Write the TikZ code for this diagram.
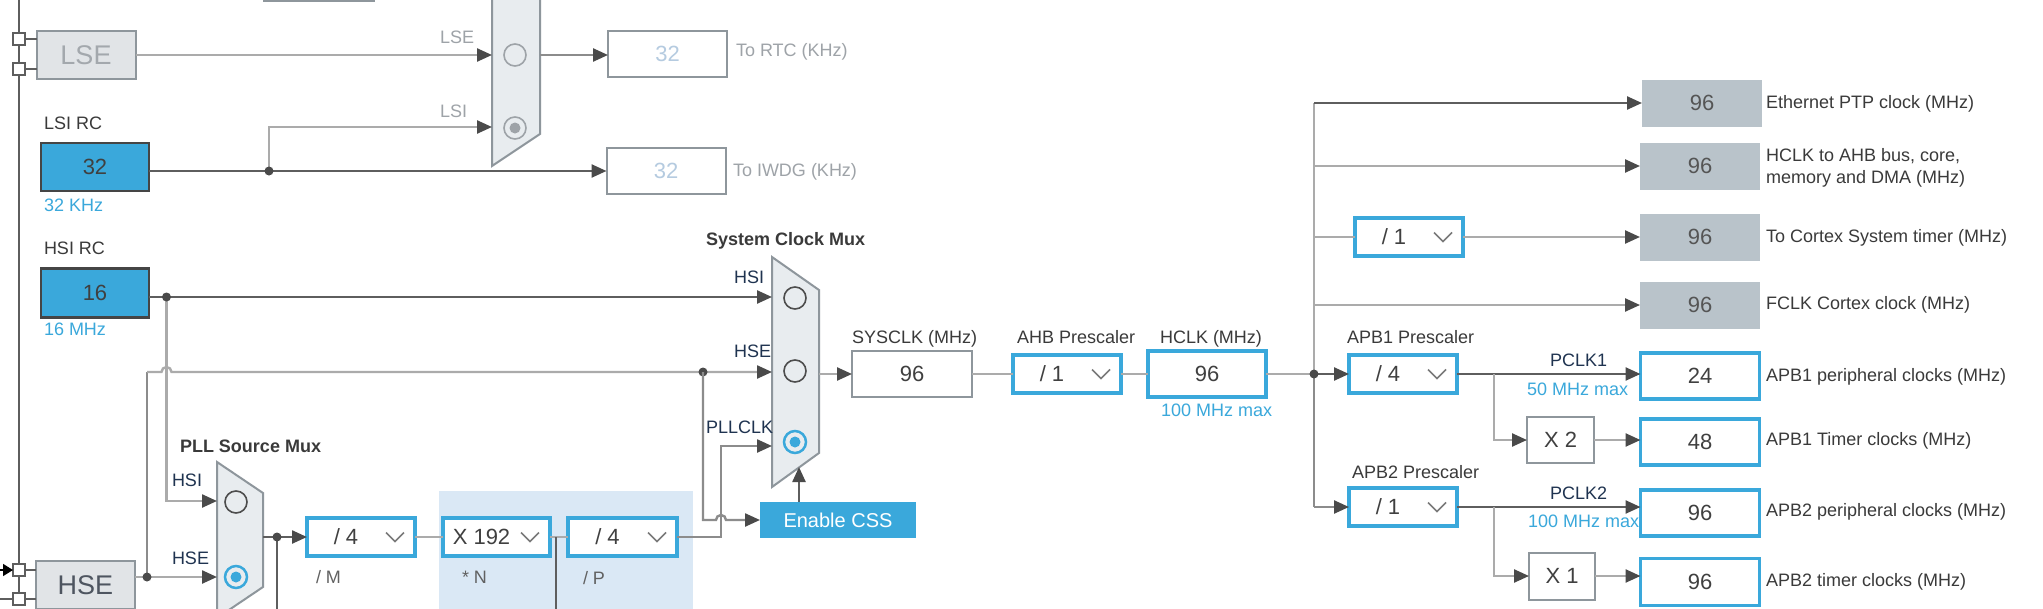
\documentclass[tikz,border=0pt]{standalone}
\usepackage{fontspec}
\setmainfont{Liberation Sans}
\usetikzlibrary{arrows.meta,calc}
\definecolor{cubeblue}{HTML}{3AA8DB}
\definecolor{wdark}{HTML}{5E5E5E}
\definecolor{wmid}{HTML}{8C8C8C}
\definecolor{wlight}{HTML}{ABABAB}
\definecolor{arrc}{HTML}{4A4A4A}
\definecolor{boxgray}{HTML}{8E969C}
\definecolor{muxfill}{HTML}{E8ECEF}
\definecolor{outfill}{HTML}{B9C3CA}
\definecolor{outtxt}{HTML}{555555}
\definecolor{pllarea}{HTML}{DAE8F5}
\definecolor{txt}{HTML}{3A3A3A}
\definecolor{navy}{HTML}{1F3350}
\definecolor{valc}{HTML}{404040}
\definecolor{disab}{HTML}{9EA3A8}
\definecolor{disval}{HTML}{B5CBE0}
\definecolor{xtalfill}{HTML}{E1E4E7}
\definecolor{lsetxt}{HTML}{A3A8AD}
\definecolor{hsetxt}{HTML}{4E5560}
\definecolor{rcborder}{HTML}{454545}
\definecolor{radioc}{HTML}{4D4D4D}
\definecolor{chevc}{HTML}{7A7A7A}
\newcommand\fsl{\fontsize{18}{22}\selectfont}
\newcommand\fsv{\fontsize{22}{26}\selectfont}
\newcommand\fsx{\fontsize{27}{32}\selectfont}
\newcommand\fsc{\fontsize{20}{24}\selectfont}
\tikzset{
 every node/.style={inner sep=0pt,outer sep=0pt},
 wire/.style={line width=2.4pt},
 wd/.style={wire,draw=wdark},
 wm/.style={wire,draw=wmid},
 wl/.style={wire,draw=wlight},
 arr/.style={-{Triangle[length=15pt,width=13pt,color=arrc]}},
 lbl/.style={anchor=west,font=\fsl,text=txt,text height=12.9pt,text depth=0pt},
 mlbl/.style={lbl,text=navy},
 blbl/.style={lbl,font=\fsl\bfseries},
 sub/.style={lbl,text=cubeblue},
 dis/.style={lbl,text=disab},
 valt/.style={font=\fsv,text=valc,text height=15.8pt,text depth=0pt},
 valbox/.style={valt,draw=boxgray,line width=2pt,fill=white,minimum width=119pt,minimum height=46pt},
 bluebox/.style={valt,draw=cubeblue,line width=3.5pt,fill=white,minimum width=119pt,minimum height=46pt},
 outbox/.style={valt,text=outtxt,fill=outfill,minimum width=120pt,minimum height=47pt},
 rcbox/.style={valt,draw=rcborder,line width=2.5pt,fill=cubeblue,minimum width=108pt,minimum height=48pt},
 xtal/.style={font=\fsx,text height=19.4pt,text depth=0pt,draw=boxgray,line width=2pt,fill=xtalfill,minimum width=99pt,minimum height=48pt},
 sq/.style={draw=wdark,line width=1.5pt,fill=white,minimum size=12pt},
 mux/.style={draw=boxgray,line width=2pt,fill=muxfill},
 radio/.style={circle,minimum size=22pt,line width=1.6pt,draw=radioc},
 ddb/.style={draw=cubeblue,line width=3.5pt,fill=white,minimum height=38pt},
 chev/.style={draw=chevc,line width=1.5pt},
 cssbox/.style={fill=cubeblue,text=white,font=\fsc,text height=14.3pt,text depth=0pt,minimum width=156pt,minimum height=36pt},
}
% name, x, y, width, text
\newcommand\ddbox[5]{%
 \node[ddb,minimum width=#4pt] (#1) at (#2,#3) {};
 \node[valt] (#1t) at ($(#1.center)+(-15,0)$) {#5};
 \draw[chev] ($(#1.east)+(-29,-4.5)$) -- ($(#1.east)+(-20,4.5)$) -- ($(#1.east)+(-11,-4.5)$);
}
\begin{document}
\begin{tikzpicture}[x=1pt,y=-1pt]
\useasboundingbox (0,0) rectangle (2043,608);
\fill[white] (0,0) rectangle (2043,608);
\clip (0,0) rectangle (2043,608);

% PLL area
\fill[pllarea] (439,491) rectangle (693,620);

% top partial box
\node[draw=boxgray,line width=2pt,minimum width=110pt,minimum height=42pt] (topbox) at (319,-20) {};

% squares and crystals
\node[sq] (s1) at (19,39) {};
\node[sq] (s2) at (19,69) {};
\node[sq] (s3) at (19,570) {};
\node[sq] (s4) at (19,599) {};
\coordinate (ltop) at (19,0);
\coordinate (lin3) at (0,570);
\coordinate (lin4) at (0,599);
\draw[wd] (ltop) -- (s1) (s1) -- (s2) (s2) -- (s3) (s3) -- (s4);
\node[xtal,text=lsetxt] (lse) at (86,55) {LSE};
\node[xtal,text=hsetxt] (hse) at (85.5,585) {HSE};
\draw[wd,line width=1.5pt] (s1.east) -- (s1.east -| lse.west);
\draw[wd,line width=1.5pt] (s2.east) -- (s2.east -| lse.west);
\draw[wd,line width=1.5pt] (s3.east) -- (s3.east -| hse.west);
\draw[wd,line width=1.5pt] (s4.east) -- (s4.east -| hse.west);
\draw[wd,line width=1.5pt] (lin4) -- (s4.west);
\draw[black,line width=1.5pt,-{Triangle[length=10pt,width=12pt]}] (lin3) -- (s3.west);

% RTC mux
\coordinate (rm1) at (492,-30);
\coordinate (rm2) at (540,-30);
\coordinate (rm3) at (540,134);
\coordinate (rm4) at (492,166);
\draw[mux] (rm1) -- (rm2) -- (rm3) -- (rm4) -- cycle;
\node[radio,draw=disab] (rlse) at (515,55) {};
\node[radio,draw=disab] (rlsi) at (515,128) {};
\fill[disab] (rlsi.center) circle[radius=5.5pt];
\coordinate (rmlse) at (492,55);
\coordinate (rmlsi) at (492,127);
\coordinate (rmout) at (540,55);
\draw[wl,arr] (lse) -- (rmlse);
\node[dis] (tlse) at (440,37) {LSE};
\node[dis] (tlsi) at (440,111) {LSI};
\node[valbox,text=disval] (rtc) at (667.5,54) {32};
\draw[wm,arr] (rmout) -- (rmout -| rtc.west);
\node[dis] (trtc) at (736,50) {To RTC (KHz)};

% LSI RC
\node[lbl] (tlsirc) at (44,123) {LSI RC};
\node[rcbox] (lsirc) at (95,167) {32};
\node[sub] (tlsif) at (44,205) {32 KHz};
\node[valbox,text=disval] (iwdg) at (666,171) {32};
\node[dis] (tiwdg) at (733,170) {To IWDG (KHz)};
\coordinate (jlsi) at (269,171);
\draw[wd,arr] (lsirc.east |- jlsi) -- (iwdg.west);
\draw[wl,arr] (jlsi) |- (rmlsi);
\fill[arrc] (jlsi) circle[radius=4.5pt];

% HSI RC
\node[lbl] (thsirc) at (44,248) {HSI RC};
\node[rcbox,minimum height=49pt] (hsirc) at (95,293) {16};
\node[sub] (thsif) at (44,329) {16 MHz};

% System clock mux
\coordinate (sm1) at (772,257);
\coordinate (sm2) at (819,290);
\coordinate (sm3) at (819,453);
\coordinate (sm4) at (772,487);
\draw[mux] (sm1) -- (sm2) -- (sm3) -- (sm4) -- cycle;
\node[radio] (rshsi) at (795,298) {};
\node[radio] (rshse) at (795,371) {};
\node[radio,draw=cubeblue,line width=2.5pt] (rspll) at (795,442) {};
\fill[cubeblue] (rspll.center) circle[radius=5.5pt];
\coordinate (smhsi) at (772,297);
\coordinate (smhse) at (772,372);
\coordinate (smpll) at (772,446);
\coordinate (smout) at (819,374);
\coordinate (smcss) at (799,467);
\node[blbl] (tsysmux) at (706,239) {System Clock Mux};
\node[mlbl] (tshsi) at (734,277) {HSI};
\node[mlbl] (tshse) at (734,351) {HSE};
\node[mlbl] (tspll) at (706,427) {PLLCLK};

% PLL source mux
\coordinate (pm1) at (217,462);
\coordinate (pm2) at (263,493);
\coordinate (pm3) at (263,587);
\coordinate (pm4) at (217,618);
\draw[mux] (pm1) -- (pm2) -- (pm3) -- (pm4) -- cycle;
\node[radio] (rphsi) at (236,502) {};
\node[radio,draw=cubeblue,line width=2.5pt] (rphse) at (236,577) {};
\fill[cubeblue] (rphse.center) circle[radius=5.5pt];
\coordinate (pmhsi) at (217,501);
\coordinate (pmhse) at (217,577);
\coordinate (pmout) at (263,537);
\node[blbl] (tpllmux) at (180,446) {PLL Source Mux};
\node[mlbl] (tphsi) at (172,480) {HSI};
\node[mlbl] (tphse) at (172,558) {HSE};

% HSI wiring
\coordinate (jhsi) at (166.5,297);
\draw[wd,arr] (hsirc.east |- smhsi) -- (smhsi);
\draw[wl,arr] (jhsi) |- (pmhsi);
\fill[arrc] (jhsi) circle[radius=4.5pt];

% HSE wiring
\coordinate (jhse) at (147,577);
\coordinate (hsecorner) at (147,372);
\coordinate (hop1) at (161.5,372);
\coordinate (jcss) at (703,372);
\draw[wl,arr] (hse.east |- jhse) -- (pmhse);
\draw[wm] (jhse) -- (hsecorner);
\draw[wl,arr] (hsecorner) -- (hop1) arc[start angle=180,end angle=0,radius=5pt] -- (smhse);
\fill[arrc] (jhse) circle[radius=4.5pt];
\fill[arrc] (jcss) circle[radius=4.5pt];

% Enable CSS
\node[cssbox] (css) at (838,520) {Enable CSS};
\coordinate (hop2) at (716,520);
\draw[wm,arr] (jcss) -- (jcss |- css.west) -- (hop2) arc[start angle=180,end angle=0,radius=5pt] -- (css.west);
\draw[wd,arr] (css.north -| smcss) -- (smcss);

% PLL chain
\ddbox{mbox}{361}{537}{108}{/ 4}
\ddbox{nbox}{496.5}{537}{107}{X 192}
\ddbox{pbox}{622.5}{537}{109}{/ 4}
\coordinate (jpll) at (277,537);
\coordinate (pllbot) at (277,620);
\coordinate (jn) at (556,537);
\coordinate (nbot) at (556,620);
\coordinate (pllv) at (721,446);
\draw[wd] (pmout) -- (jpll);
\draw[wd,arr] (jpll) -- (mbox.west);
\draw[wd] (jpll) -- (pllbot);
\fill[arrc] (jpll) circle[radius=4.5pt];
\draw[wl] (mbox.east) -- (nbox.west);
\draw[wl] (nbox.east) -- (pbox.west);
\draw[wd] (jn) -- (nbot);
\draw[wm,arr] (pbox.east) -- (pbox.east -| pllv) -- (pllv) -- (smpll);
\node[lbl,text=txt!80] (tm) at (316,577) {/ M};
\node[lbl,text=txt!80] (tn) at (462,577) {* N};
\node[lbl,text=txt!80] (tp) at (583,578) {/ P};

% SYSCLK / AHB / HCLK
\node[valbox,minimum width=120pt] (sys) at (912,374) {96};
\node[lbl] (tsys) at (852,337) {SYSCLK (MHz)};
\draw[wl,arr] (smout) -- (sys.west);
\ddbox{ahb}{1067}{374}{108}{/ 1}
\node[lbl] (tahb) at (1017,337) {AHB Prescaler};
\node[bluebox,minimum width=118pt] (hclk) at (1207,374) {96};
\node[lbl] (thclk) at (1160,337) {HCLK (MHz)};
\node[sub] (thmax) at (1161,410) {100 MHz max};
\draw[wl] (sys) -- (ahb);
\draw[wl] (ahb) -- (hclk);
\coordinate (jh) at (1314,374);
\draw[wl] (hclk) -- (jh);

% right column
\coordinate (vtop) at (1314,103);
\coordinate (vbot) at (1314,507);
\draw[wl] (vtop) -- (jh);
\draw[wm] (jh) -- (vbot);
\node[outbox] (eth) at (1702,103) {96};
\node[outbox] (ahbo) at (1700,166) {96};
\node[outbox] (cort) at (1700,237) {96};
\node[outbox] (fclk) at (1700,305) {96};
\ddbox{cdd}{1409}{237}{108}{/ 1}
\draw[wd,arr] (vtop) -- (eth.west);
\draw[wl,arr] (vtop |- ahbo) -- (ahbo.west);
\draw[wl] (vtop |- cdd) -- (cdd.west);
\draw[wl,arr] (cdd) -- (cort.west);
\draw[wl,arr] (vtop |- fclk) -- (fclk.west);
\node[lbl] (teth) at (1766,102) {Ethernet PTP clock (MHz)};
\node[lbl] (tahb1) at (1766,155) {HCLK to AHB bus, core,};
\node[lbl] (tahb2) at (1766,177) {memory and DMA (MHz)};
\node[lbl] (tcort) at (1766,236) {To Cortex System timer (MHz)};
\node[lbl] (tfclk) at (1766,303) {FCLK Cortex clock (MHz)};

% APB1
\ddbox{apb1}{1403}{374}{108}{/ 4}
\node[lbl] (tapb1) at (1347,337) {APB1 Prescaler};
\draw[wd,arr] (jh) -- (apb1.west);
\fill[arrc] (jh) circle[radius=4.5pt];
\node[bluebox] (p1) at (1700,376) {24};
\draw[wd,arr] (apb1.east) -- (apb1.east -| p1.west);
\node[mlbl] (tpclk1) at (1550,360) {PCLK1};
\node[sub] (tp1max) at (1527,389) {50 MHz max};
\coordinate (b1) at (1494,374);
\node[valbox,minimum width=67pt] (x2) at (1560.5,440) {X 2};
\draw[wl,arr] (b1) |- (x2.west);
\node[bluebox] (t48) at (1700,442) {48};
\draw[wl,arr] (x2.east) -- (x2.east -| t48.west);
\node[lbl] (tp1) at (1766,375) {APB1 peripheral clocks (MHz)};
\node[lbl] (tt1) at (1766,439) {APB1 Timer clocks (MHz)};

% APB2
\ddbox{apb2}{1403}{507}{108}{/ 1}
\node[lbl] (tapb2) at (1352,472) {APB2 Prescaler};
\draw[wm,arr] (vbot) -- (apb2.west);
\node[bluebox] (p2) at (1700,513) {96};
\draw[wd,arr] (apb2.east) -- (apb2.east -| p2.west);
\node[mlbl] (tpclk2) at (1550,493) {PCLK2};
\node[sub] (tp2max) at (1528,521) {100 MHz max};
\coordinate (b2) at (1494,507);
\node[valbox,minimum width=66pt,minimum height=47pt] (x1) at (1562,576) {X 1};
\draw[wl,arr] (b2) |- (x1.west);
\node[bluebox,minimum height=47pt] (t96) at (1700,582) {96};
\draw[wl,arr] (x1.east) -- (x1.east -| t96.west);
\node[lbl] (tp2) at (1766,510) {APB2 peripheral clocks (MHz)};
\node[lbl] (tt2) at (1766,580) {APB2 timer clocks (MHz)};
\end{tikzpicture}
\end{document}
